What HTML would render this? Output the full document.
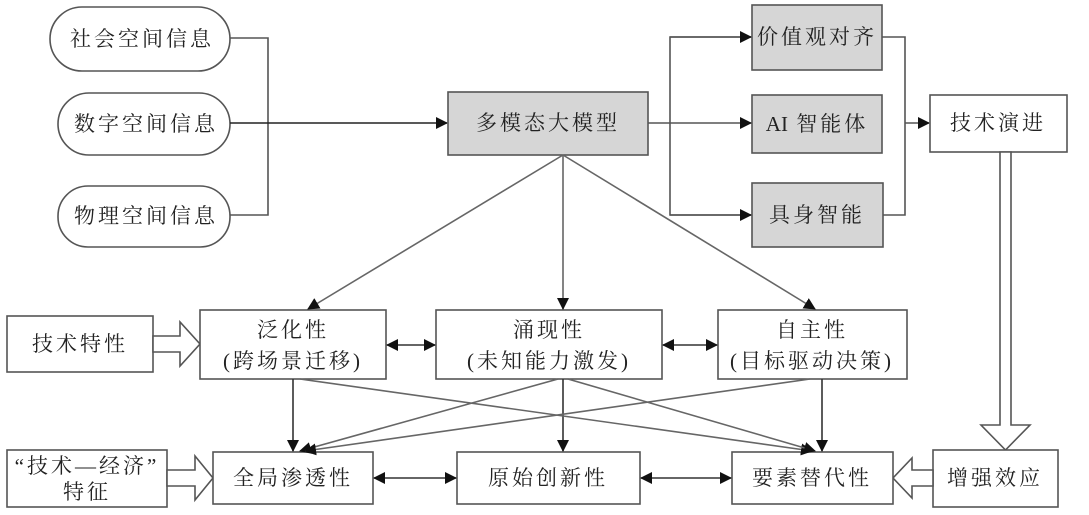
<!DOCTYPE html>
<html><head><meta charset="utf-8"><style>
body{margin:0;background:#fff}
svg text{font-family:"Liberation Serif","Noto Serif CJK SC","Noto Sans CJK SC",serif;font-size:21px;fill:#222;text-anchor:middle;dominant-baseline:central;letter-spacing:3px}
</style></head><body>
<svg width="1089" height="510" viewBox="0 0 1089 510" xmlns="http://www.w3.org/2000/svg">
<defs>
<marker id="a" markerWidth="12" markerHeight="12" refX="11" refY="6" orient="auto" markerUnits="userSpaceOnUse"><path d="M0,0 L12,6 L0,12 z" fill="#111"/></marker>
<marker id="s" markerWidth="12" markerHeight="12" refX="1" refY="6" orient="auto" markerUnits="userSpaceOnUse"><path d="M12,0 L0,6 L12,12 z" fill="#111"/></marker>
</defs>
<g stroke="#555" stroke-width="1.6" fill="none">
<rect x="50" y="7" width="180" height="64" rx="32" fill="#fff"/>
<rect x="58" y="93" width="172" height="62" rx="31" fill="#fff"/>
<rect x="58" y="186" width="172" height="61" rx="30" fill="#fff"/>
<polyline points="230,38 268,38 268,215 230,215"/>
<line x1="230" y1="123" x2="447" y2="123" stroke="#222" marker-end="url(#a)"/>
<rect x="448" y="92" width="200" height="63" fill="#d6d6d6"/>
<rect x="752" y="5" width="130" height="65" fill="#d6d6d6"/>
<rect x="752" y="95" width="130" height="58" fill="#d6d6d6"/>
<rect x="752" y="183" width="131" height="64" fill="#d6d6d6"/>
<polyline points="648,123 670,123"/>
<polyline points="751,37 670,37 670,215 751,215"/>
<line x1="670" y1="37" x2="751" y2="37" marker-end="url(#a)"/>
<line x1="670" y1="123" x2="751" y2="123" marker-end="url(#a)"/>
<line x1="670" y1="215" x2="751" y2="215" marker-end="url(#a)"/>
<polyline points="882,37 905,37 905,215 883,215"/>
<line x1="905" y1="123" x2="929" y2="123" marker-end="url(#a)"/>
<rect x="930" y="95" width="137" height="57" fill="#fff"/>
<polygon points="1000,152 1011,152 1011,425 1030,425 1005.5,450 981,425 1000,425" fill="#fff"/>
<rect x="933" y="450" width="125" height="57" fill="#fff"/>
<polygon points="933,470 912,470 912,458 893,478 912,498 912,486 933,486" fill="#fff"/>
<rect x="7" y="316" width="146" height="56" fill="#fff"/>
<polygon points="153,336 180,336 180,322 200,344 180,366 180,352 153,352" fill="#fff"/>
<rect x="7" y="450" width="160" height="57" fill="#fff"/>
<polygon points="167,470 195,470 195,456 213,478 195,500 195,486 167,486" fill="#fff"/>
<rect x="200" y="310" width="186" height="69" fill="#fff"/>
<rect x="436" y="310" width="226" height="69" fill="#fff"/>
<rect x="718" y="310" width="189" height="69" fill="#fff"/>
<rect x="213" y="452" width="160" height="52" fill="#fff"/>
<rect x="457" y="452" width="183" height="52" fill="#fff"/>
<rect x="732" y="452" width="161" height="52" fill="#fff"/>
<g stroke="#666">
<line x1="563" y1="155" x2="308" y2="309" marker-end="url(#a)"/>
<line x1="563" y1="155" x2="563" y2="309" marker-end="url(#a)"/>
<line x1="563" y1="155" x2="815" y2="309" marker-end="url(#a)"/>
</g>
<g stroke="#333">
<line x1="387" y1="345" x2="435" y2="345" marker-start="url(#s)" marker-end="url(#a)"/>
<line x1="663" y1="345" x2="717" y2="345" marker-start="url(#s)" marker-end="url(#a)"/>
<line x1="374" y1="478" x2="456" y2="478" marker-start="url(#s)" marker-end="url(#a)"/>
<line x1="641" y1="478" x2="731" y2="478" marker-start="url(#s)" marker-end="url(#a)"/>
<line x1="293" y1="379" x2="293" y2="451" marker-end="url(#a)"/>
<line x1="563" y1="379" x2="563" y2="451" marker-end="url(#a)"/>
<line x1="822" y1="379" x2="822" y2="451" marker-end="url(#a)"/>
</g>
<g stroke="#666">
<line x1="300" y1="379" x2="812" y2="451" marker-end="url(#a)"/>
<line x1="558" y1="379" x2="300" y2="451" marker-end="url(#a)"/>
<line x1="568" y1="379" x2="815" y2="451" marker-end="url(#a)"/>
<line x1="810" y1="379" x2="305" y2="451" marker-end="url(#a)"/>
</g>
</g>
<text x="142" y="39">社会空间信息</text>
<text x="146" y="124">数字空间信息</text>
<text x="146" y="216">物理空间信息</text>
<text x="548" y="123">多模态大模型</text>
<text x="817" y="37">价值观对齐</text>
<text x="817" y="124"><tspan style="letter-spacing:0">AI</tspan> 智能体</text>
<text x="817" y="215">具身智能</text>
<text x="998" y="123">技术演进</text>
<text x="995" y="478">增强效应</text>
<text x="80" y="344">技术特性</text>
<text x="87" y="466">“技术—经济”</text>
<text x="87" y="492">特征</text>
<text x="293" y="330">泛化性</text>
<text x="293" y="361">(跨场景迁移)</text>
<text x="549" y="330">涌现性</text>
<text x="549" y="361">(未知能力激发)</text>
<text x="812" y="330">自主性</text>
<text x="812" y="361">(目标驱动决策)</text>
<text x="293" y="478">全局渗透性</text>
<text x="548" y="478">原始创新性</text>
<text x="812" y="478">要素替代性</text>
</svg>
</body></html>
